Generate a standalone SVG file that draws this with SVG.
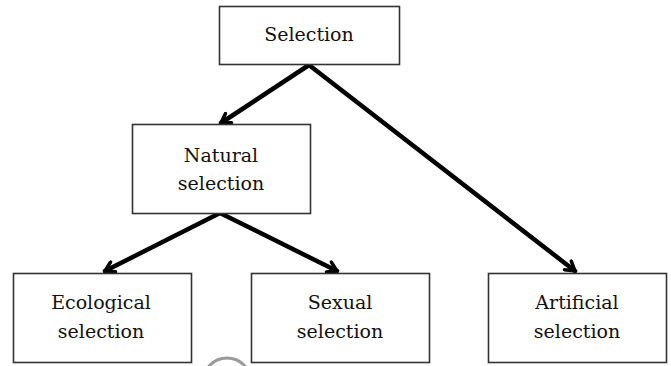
<svg xmlns="http://www.w3.org/2000/svg" width="671" height="366" viewBox="0 0 671 366">
  <style>
    .box { fill: #ffffff; stroke: #333333; stroke-width: 1.6; }
    .label { font-family: "DejaVu Serif", serif; font-size: 19px; fill: #111111; text-anchor: middle; }
    .edge { fill: none; stroke: #000000; stroke-width: 4.5; stroke-linecap: round; marker-end: url(#head); }
  </style>
  <defs>
    <marker id="head" markerUnits="userSpaceOnUse" viewBox="0 0 14 14" refX="12" refY="7" markerWidth="14" markerHeight="14" orient="auto">
      <path d="M3,1.5 L12,7 L3,12.5" fill="none" stroke="#000000" stroke-width="3.5" stroke-linejoin="miter" stroke-linecap="round"/>
    </marker>
  </defs>
  <rect width="671" height="366" fill="#ffffff"/>

  <g id="connectors">
    <line class="edge" x1="309" y1="65" x2="221" y2="123"/>
    <line class="edge" x1="309" y1="65" x2="575" y2="271"/>
    <line class="edge" x1="220" y1="213" x2="105" y2="271"/>
    <line class="edge" x1="220" y1="213" x2="337" y2="271"/>
  </g>

  <g id="selection">
    <rect class="box" x="219.5" y="6.5" width="180" height="58"/>
    <text class="label" x="309" y="41">Selection</text>
  </g>

  <g id="natural-selection">
    <rect class="box" x="132.5" y="124.5" width="178" height="89"/>
    <text class="label" x="221" y="162">Natural</text>
    <text class="label" x="221" y="190">selection</text>
  </g>

  <g id="ecological-selection">
    <rect class="box" x="13.5" y="273.5" width="178" height="89"/>
    <text class="label" x="101" y="309">Ecological</text>
    <text class="label" x="101" y="338">selection</text>
  </g>

  <g id="sexual-selection">
    <rect class="box" x="251.5" y="273.5" width="178" height="89"/>
    <text class="label" x="340" y="309">Sexual</text>
    <text class="label" x="340" y="338">selection</text>
  </g>

  <g id="artificial-selection">
    <rect class="box" x="488.5" y="273.5" width="178" height="89"/>
    <text class="label" x="577" y="309">Artificial</text>
    <text class="label" x="577" y="338">selection</text>
  </g>

  <!-- faint round mark below the lower row -->
  <circle cx="227" cy="382" r="24" fill="none" stroke="#9a9a9a" stroke-width="3"/>
</svg>
